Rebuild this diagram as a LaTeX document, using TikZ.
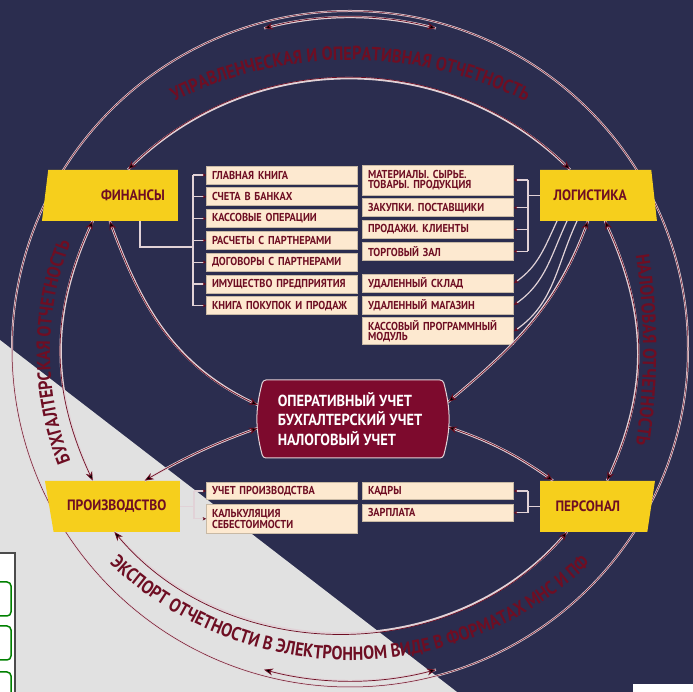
\documentclass[tikz,border=0pt]{standalone}
\usepackage{fontspec}
\setmainfont{PT Sans}
\newfontfamily\narrowfont{PT Sans}[FakeStretch=0.9]
\newfontfamily\arcfont{PT Sans}[FakeStretch=0.86]
\usetikzlibrary{shapes.geometric, positioning, arrows.meta, decorations.text}

\definecolor{navy}{RGB}{43,45,79}
\definecolor{mist}{RGB}{225,225,225}
\definecolor{gold}{RGB}{246,207,28}
\definecolor{wine}{RGB}{110,14,35}
\definecolor{corered}{RGB}{125,10,45}
\definecolor{cream}{RGB}{253,233,208}
\definecolor{tan}{RGB}{200,185,165}
\definecolor{pale}{RGB}{225,210,215}

\tikzset{
	unit/.style={trapezium, trapezium stretches=true, fill=gold, inner sep=0pt,
		minimum height=51pt, text=wine, font=\narrowfont\bfseries\fontsize{15}{15}\selectfont},
	item/.style={rectangle, draw=tan, fill=cream, line width=.8pt, inner sep=0pt,
		minimum width=151pt, minimum height=18pt, text width=140pt, align=left,
		text=wine, font=\narrowfont\bfseries\fontsize{11.5}{10.5}\selectfont},
	core/.style={rectangle, inner sep=0pt, minimum width=180pt, minimum height=78pt,
		text=white, align=left, font=\narrowfont\bfseries\fontsize{16}{19.5}\selectfont},
	ring/.style={draw=wine, line width=.5pt, preaction={draw=pale, line width=2pt}},
	link/.style={draw=wine, line width=.7pt, preaction={draw=pale, line width=2.4pt, -},
		{Stealth[length=9pt,width=7pt]}-{Stealth[length=9pt,width=7pt]}},
	bus/.style={draw=pale, line width=1.2pt},
	tick/.style={bus, -{Stealth[length=3.5pt,width=3.5pt,color=wine]}},
	feed/.style={bus, -{Stealth[length=5pt,width=4.5pt,color=wine]}},
	arctext/.style={decorate, decoration={text along path, text align=center, text color=wine,
		text={|\arcfont\bfseries\fontsize{19}{19}\selectfont|#1}}},
}

\begin{document}
\begin{tikzpicture}[x=1pt, y=1pt, node distance=3pt]
				\useasboundingbox (0,0) rectangle (693,692);
				\fill[navy] (0,0) rectangle (693,692);
				\fill[mist] (0,0) -- (0,352) -- (457,0) -- cycle;
				% screen edges
				\fill[white, draw=gray!60!black, line width=1.5pt] (-5,-5) rectangle (15,139);
				\draw[green!50!black, line width=1.5pt, rounded corners=4pt] (-10,76) rectangle (11,110);
				\draw[green!50!black, line width=1.5pt, rounded corners=4pt] (-10,32) rectangle (11,66);
				\draw[green!50!black, line width=1.5pt, rounded corners=4pt] (-10,-10) rectangle (11,20);
				\fill[white] (633,0) rectangle (693,8);

				\coordinate (hub) at (350,343);
				\draw[ring] (hub) circle[radius=338];
				\path[arctext={УПРАВЛЕНЧЕСКАЯ И ОПЕРАТИВНАЯ ОТЧЕТНОСТЬ}] (350,242) ++(135:390) arc[start angle=135, end angle=45, radius=390];
				\path[arctext={ЭКСПОРТ ОТЧЕТНОСТИ В ЭЛЕКТРОННОМ ВИДЕ В ФОРМАТАХ МНС И ПФ}] (350,380) ++(210:348) arc[start angle=210, end angle=330, radius=348];
				\path[arctext={БУХГАЛТЕРСКАЯ ОТЧЕТНОСТЬ}] (350,340) ++(222:300) arc[start angle=222, end angle=138, radius=300];
				\path[arctext={НАЛОГОВАЯ ОТЧЕТНОСТЬ}] (0,342) ++(12:643) arc[start angle=12, end angle=-12, radius=643];

				% main units
				\node[unit, trapezium left angle=65.7, trapezium right angle=90, minimum width=136pt, anchor=bottom right corner] (fin) at (178,471) {\hspace*{40pt}ФИНАНСЫ};
				\node[unit, trapezium left angle=90, trapezium right angle=68.6, minimum width=117pt, anchor=bottom left corner] (log) at (540,471) {ЛОГИСТИКА\hspace*{11pt}};
				\node[unit, trapezium left angle=118.4, trapezium right angle=90, minimum width=135pt, anchor=bottom right corner] (prod) at (180,160) {ПРОИЗВОДСТВО};
				\node[unit, trapezium left angle=90, trapezium right angle=116.6, minimum width=115pt, anchor=bottom left corner] (pers) at (540,160) {ПЕРСОНАЛ\hspace*{12pt}};
				\filldraw[fill=corered, draw=pale, line width=1pt, rounded corners=3pt] (263,312) to[bend right=15] (263,234) -- (443,234) to[bend right=15] (443,312) -- cycle;
				\node[core] (core) at (350,273) {ОПЕРАТИВНЫЙ УЧЕТ\\БУХГАЛТЕРСКИЙ УЧЕТ\\НАЛОГОВЫЙ УЧЕТ};

				% finance items
				\node[item] (fin1) at (282,517) {ГЛАВНАЯ КНИГА};
				\node[item, below=of fin1] (fin2) {СЧЕТА В БАНКАХ};
				\node[item, below=of fin2] (fin3) {КАССОВЫЕ ОПЕРАЦИИ};
				\node[item, below=of fin3] (fin4) {РАСЧЕТЫ С ПАРТНЕРАМИ};
				\node[item, below=of fin4] (fin5) {ДОГОВОРЫ С ПАРТНЕРАМИ};
				\node[item, below=of fin5] (fin6) {ИМУЩЕСТВО ПРЕДПРИЯТИЯ};
				\node[item, below=of fin6] (fin7) {КНИГА ПОКУПОК И ПРОДАЖ};

				% logistics items
				\node[item, minimum height=30pt] (log1) at (438,512) {МАТЕРИАЛЫ. СЫРЬЕ.\\ТОВАРЫ. ПРОДУКЦИЯ};
				\node[item, below=of log1] (log2) {ЗАКУПКИ. ПОСТАВЩИКИ};
				\node[item, below=of log2] (log3) {ПРОДАЖИ. КЛИЕНТЫ};
				\node[item, below=of log3] (log4) {ТОРГОВЫЙ ЗАЛ};
				\node[item, below=13pt of log4] (log5) {УДАЛЕННЫЙ СКЛАД};
				\node[item, below=of log5] (log6) {УДАЛЕННЫЙ МАГАЗИН};
				\node[item, minimum height=27pt, below=of log6] (log7) {КАССОВЫЙ ПРОГРАММНЫЙ\\МОДУЛЬ};

				% production and staff items
				\node[item, minimum height=17pt] (prod1) at (282,201) {УЧЕТ ПРОИЗВОДСТВА};
				\node[item, minimum height=29pt, below=4pt of prod1] (prod2) {КАЛЬКУЛЯЦИЯ\\СЕБЕСТОИМОСТИ};
				\node[item, minimum height=17pt] (pers1) at (438,201) {КАДРЫ};
				\node[item, minimum height=17pt, below=4pt of pers1] (pers2) {ЗАРПЛАТА};

				% buses
				\coordinate (fbus) at (193,445);
				\coordinate (lbus) at (528,0);
				\coordinate (pbus) at (194,0);
				\draw[bus] ([xshift=-38pt]fin.bottom right corner) |- (fbus);
				\draw[bus] (fin1.west -| fbus) -- (fin7.west -| fbus);
				\foreach \i in {1,...,7} \draw[tick] (fin\i.west -| fbus) -- (fin\i.west);
				\draw[bus] (log.west) -- (log.west -| lbus);
				\draw[bus] (log1.east -| lbus) -- (log4.east -| lbus);
				\foreach \i in {1,...,4} \draw[tick] (log\i.east -| lbus) -- (log\i.east);
				\draw[feed] ([xshift=17pt]log.bottom left corner) to[out=-115, in=35] (log5.east);
				\draw[feed] ([xshift=27pt]log.bottom left corner) to[out=-115, in=35] (log6.east);
				\draw[feed] ([xshift=37pt]log.bottom left corner) to[out=-115, in=35] (log7.east);
				\draw[bus] (prod.east) -- (prod.east -| pbus);
				\draw[bus] (prod1.west -| pbus) -- (prod2.west -| pbus);
				\foreach \i in {1,2} \draw[tick] (prod\i.west -| pbus) -- (prod\i.west);
				\draw[bus] (pers.west) -- (pers.west -| lbus);
				\draw[bus] (pers1.east -| lbus) -- (pers2.east -| lbus);
				\foreach \i in {1,2} \draw[tick] (pers\i.east -| lbus) -- (pers\i.east);

				% reporting flows
				\draw[link] (hub) ++(105:332) arc[start angle=105, end angle=75, radius=332];
				\draw[link] (hub) ++(255:332) arc[start angle=255, end angle=285, radius=332];
				\draw[link] ([xshift=-50pt]fin.top right corner) to[out=45, in=135] ([xshift=30pt]log.top left corner);
				\draw[link] ([xshift=51pt]fin.bottom left corner) to[out=-115, in=115] ([xshift=48pt]prod.top left corner);
				\draw[link] ([xshift=68pt]fin.bottom left corner) to[out=-70, in=155] ([xshift=-2pt, yshift=14pt]core.west);
				\draw[link] ([xshift=100pt]prod.top left corner) to[bend left=5] ([xshift=-2pt, yshift=-9pt]core.west);
				\draw[link] ([xshift=48pt]log.bottom left corner) to[out=-110, in=40] ([xshift=8pt, yshift=17pt]core.east);
				\draw[link] ([xshift=8pt, yshift=-8pt]core.east) to[bend left=8] ([xshift=13pt]pers.top left corner);
				\draw[link] ([xshift=65pt]log.bottom left corner) to[out=-65, in=65] ([xshift=67pt]pers.top left corner);
				\draw[link] ([xshift=61pt]prod.bottom left corner) to[out=-50, in=-130] ([xshift=27pt]pers.bottom left corner);
\end{tikzpicture}
\end{document}
